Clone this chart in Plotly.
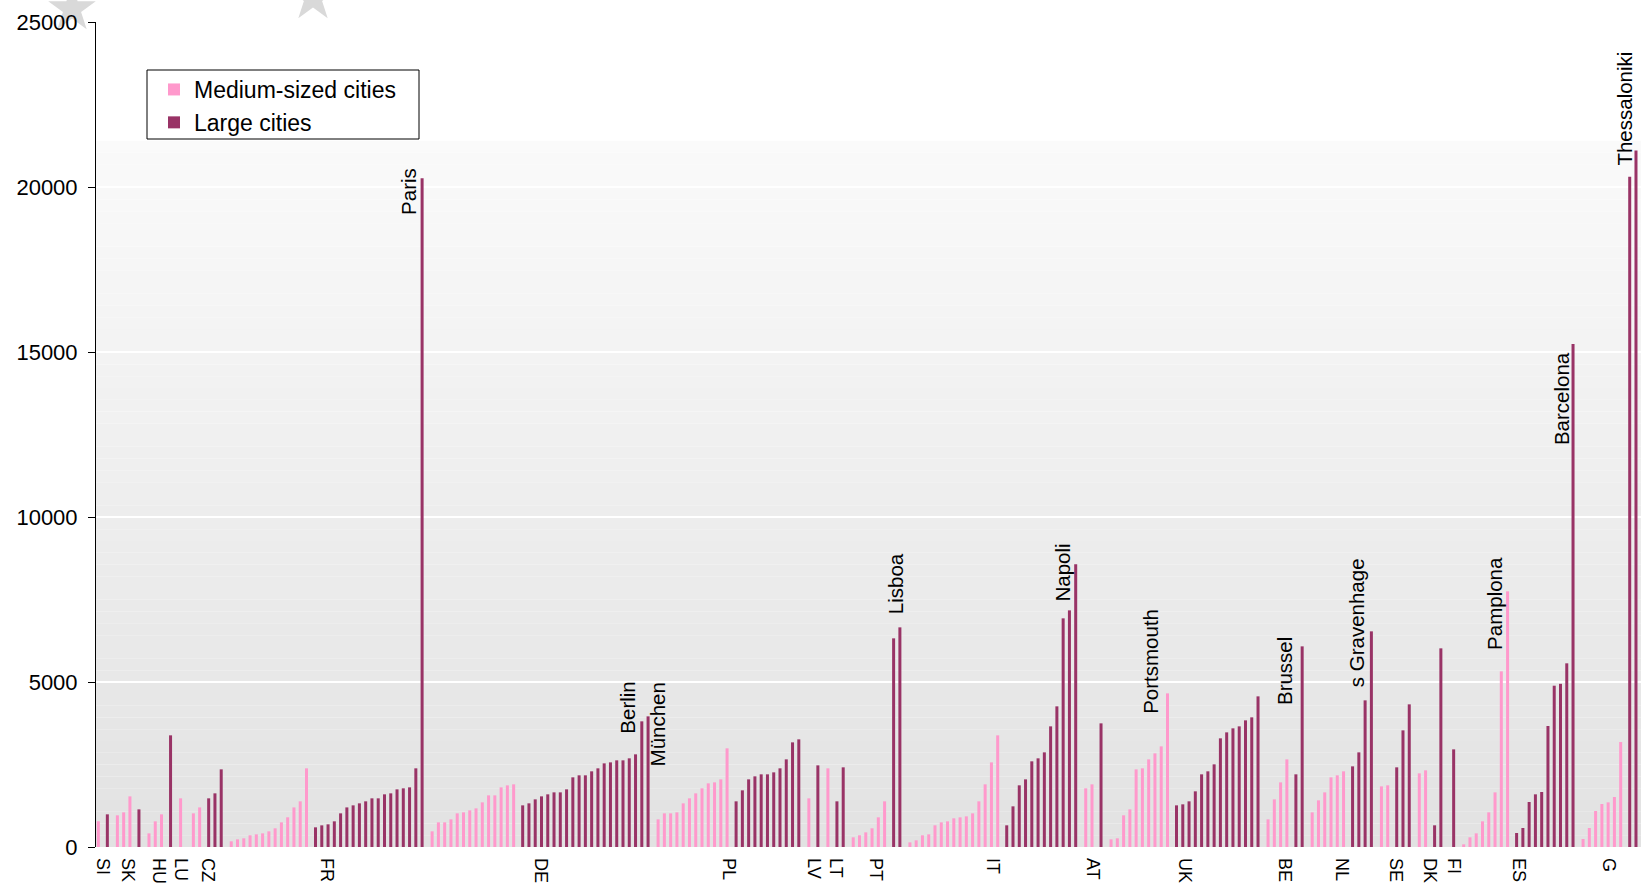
import plotly.graph_objects as go

# %% Data: population density per city (inhabitants / km2), grouped by country
countries = ["SI", "SK", "HU", "LU", "CZ", "FR", "DE", "PL", "LV", "LT", "PT",
             "IT", "AT", "UK", "BE", "NL", "SE", "DK", "FI", "ES", "G"]

medium = [
    [780],
    [960, 1050, 1535],
    [414, 778, 990],
    [1475],
    [1020, 1200],
    [172, 232, 263, 354, 384, 414, 475, 566, 747, 900, 1200, 1384, 2384],
    [475, 747, 747, 838, 1020, 1050, 1111, 1171, 1353, 1565, 1565, 1808, 1868, 1899],
    [838, 1020, 1020, 1050, 1323, 1475, 1626, 1778, 1929, 1959, 2050, 2990],
    [1475],
    [2384],
    [293, 354, 444, 566, 899, 1384],
    [141, 202, 354, 384, 657, 747, 778, 869, 899, 929, 1020, 1384, 1899, 2565, 3384],
    [1778, 1899],
    [232, 263, 960, 1141, 2353, 2384, 2656, 2838, 3050, 4656],
    [838, 1444, 1959, 2656],
    [1050, 1414, 1656, 2111, 2172, 2293],
    [1838, 1869],
    [2232, 2323],
    [],
    [81, 293, 414, 778, 1050, 1656, 5323, 7747],
    [242, 576, 1091, 1303, 1353, 1515, 3181],
]

large = [
    [990],
    [1140],
    [3384],
    [],
    [1475, 1626, 2353],
    [596, 656, 687, 778, 1020, 1200, 1262, 1323, 1384, 1475, 1475, 1596, 1626,
     1747, 1778, 1808, 2384, 20264],
    [1262, 1323, 1444, 1535, 1596, 1656, 1656, 1747, 2111, 2172, 2172, 2293, 2384,
     2535, 2565, 2626, 2626, 2687, 2808, 3808, 3959],
    [1384, 1717, 2050, 2141, 2202, 2202, 2262, 2384, 2656, 3171, 3262],
    [2474],
    [1384, 2414],
    [6323, 6656],
    [657, 1232, 1869, 2050, 2596, 2687, 2868, 3656, 4262, 6929, 7171, 8565],
    [3747],
    [1262, 1293, 1384, 1687, 2202, 2293, 2505, 3293, 3474, 3596, 3656, 3838, 3929, 4565],
    [2202, 6080],
    [2444, 2868, 4444, 6535],
    [2414, 3535, 4323],
    [657, 6020],
    [2959],
    [424, 576, 1364, 1596, 1667, 3666, 4888, 4945, 5566, 15240],
    [20312, 21103],
]

# named cities: country, series and position inside that country's run
label_names = ["Paris", "Berlin", "München", "Lisboa", "Napoli", "Portsmouth",
               "Brussel", "s Gravenhage", "Pamplona", "Barcelona", "Thessaloniki"]
label_countries = ["FR", "DE", "DE", "PT", "IT", "UK", "BE", "NL", "ES", "ES", "G"]
label_series = ["large", "large", "large", "large", "large", "medium",
                "large", "large", "medium", "large", "large"]
label_rank = [-1, -2, -1, -1, -1, -1, -1, -1, -1, -1, -1]

y_ticks = [0, 5000, 10000, 15000, 20000, 25000]

# %% Bar positions: a small extra gap between series and between countries
SERIES_GAP = 0.44
COUNTRY_GAP = 0.6

med_x, med_y, large_x, large_y = [], [], [], []
pos_of = {}
centers = []
pos = -1.0
for ci, (c, m, l) in enumerate(zip(countries, medium, large)):
    if ci > 0:
        pos += COUNTRY_GAP
    mp = []
    for v in m:
        pos += 1
        med_x.append(pos)
        med_y.append(v)
        mp.append(pos)
    pos += SERIES_GAP
    lp = []
    for v in l:
        pos += 1
        large_x.append(pos)
        large_y.append(v)
        lp.append(pos)
    pos_of[(c, "medium")] = mp
    pos_of[(c, "large")] = lp
    allp = mp + lp
    centers.append(sum(allp) / len(allp))

first_x = min(med_x + large_x)
last_x = max(med_x + large_x)

PINK = "#ff99cc"
PLUM = "#993366"

fig = go.Figure()
fig.add_trace(go.Bar(
    x=med_x, y=med_y, width=0.48, name="Medium-sized cities",
    marker=dict(color=PINK, line=dict(width=0)), hoverinfo="skip"
))
fig.add_trace(go.Bar(
    x=large_x, y=large_y, width=0.48, name="Large cities",
    marker=dict(color=PLUM, line=dict(width=0)), hoverinfo="skip"
))

# %% Plot area grey gradient (white at top, light grey at the bottom)
shapes = []
GRAD_TOP = 21400
n_strips = 60
c_top = (250, 250, 250)
c_bot = (226, 226, 226)
for i in range(n_strips):
    t = (i + 0.5) / n_strips
    col = tuple(int(round(c_bot[k] + (c_top[k] - c_bot[k]) * t)) for k in range(3))
    shapes.append(dict(
        type="rect", xref="paper", yref="y", layer="below",
        x0=0, x1=1, y0=GRAD_TOP * i / n_strips, y1=GRAD_TOP * (i + 1) / n_strips,
        fillcolor="rgb(%d,%d,%d)" % col, line=dict(width=0)
    ))

# %% Decorative grey stars peeking in at the top (figure pixel space)
W, H = 1641, 892
ML, MR, MT, MB = 96, 0, 22, 45
PW, PH = W - ML - MR, H - MT - MB


def px_to_paper(px, py):
    return (px - ML) / PW, 1 - (py - MT) / PH


def star_path(cx, cy, r_out):
    import math
    r_in = r_out * 0.382
    pts = []
    for k in range(10):
        ang = math.radians(-90 + 36 * k)
        r = r_out if k % 2 == 0 else r_in
        pts.append(px_to_paper(cx + r * math.cos(ang), cy + r * math.sin(ang)))
    return "M " + " L ".join("%.5f,%.5f" % p for p in pts) + " Z"


for cx, cy in [(72, 9), (313, -2)]:
    shapes.append(dict(
        type="path", xref="paper", yref="paper", layer="below",
        path=star_path(cx, cy, 25), fillcolor="#d9d9d9", line=dict(width=0)
    ))

# legend frame
lx0, ly0 = px_to_paper(147, 70)
lx1, ly1 = px_to_paper(419, 139)
shapes.append(dict(
    type="rect", xref="paper", yref="paper", layer="above",
    x0=lx0, x1=lx1, y0=ly1, y1=ly0,
    fillcolor="white", line=dict(color="black", width=1)
))

# %% City labels
label_shift = {
    "Paris": (-13, -13.5), "Berlin": (-14, 13.5), "München": (9, -8),
    "Lisboa": (-5, 44), "Napoli": (-13, -8.5), "Portsmouth": (-17, 32),
    "Brussel": (-17.5, -25), "s Gravenhage": (-15.5, 9), "Pamplona": (-13, -12),
    "Barcelona": (-12, -55), "Thessaloniki": (-11, 42),
}
annotations = []
for name, c, s, r in zip(label_names, label_countries, label_series, label_rank):
    ci = countries.index(c)
    vals = medium[ci] if s == "medium" else large[ci]
    bx = pos_of[(c, s)][r]
    dx, dy = label_shift[name]
    annotations.append(dict(
        x=bx, y=vals[r], xref="x", yref="y", text=name, showarrow=False,
        textangle=-90, xanchor="center", yanchor="middle",
        xshift=dx, yshift=dy,
        font=dict(family="Arial, Liberation Sans, sans-serif", size=20.5, color="black")
    ))

leg_x, leg_y = px_to_paper(154, 68)

fig.update_layout(
    width=W, height=H,
    barmode="overlay",
    paper_bgcolor="white",
    plot_bgcolor="white",
    margin=dict(l=ML, r=MR, t=MT, b=MB, pad=0),
    font=dict(family="Arial, Liberation Sans, sans-serif", color="black"),
    shapes=shapes,
    annotations=annotations,
    showlegend=True,
    legend=dict(
        x=leg_x, y=leg_y, xanchor="left", yanchor="top",
        bgcolor="rgba(0,0,0,0)", borderwidth=0,
        font=dict(size=23, color="black"), traceorder="normal",
    ),
    xaxis=dict(
        range=[first_x - 0.37, last_x + 0.8],
        tickmode="array", tickvals=centers, ticktext=countries,
        tickangle=90, tickfont=dict(size=18, color="black"),
        ticks="", showline=False, showgrid=False, zeroline=False,
        ticklabelstandoff=10,
    ),
    yaxis=dict(
        range=[0, 25000], tickmode="array", tickvals=y_ticks,
        ticktext=[str(v) for v in y_ticks],
        tickfont=dict(size=22, color="black"),
        showline=True, linecolor="black", linewidth=1,
        ticks="outside", ticklen=7, tickcolor="black", tickwidth=1,
        showgrid=True, gridcolor="white", gridwidth=1.5, zeroline=False,
        ticklabelstandoff=6,
    ),
)

fig.write_html("out.html", config={"displayModeBar": False},
               post_script="document.body.style.margin='0';")
